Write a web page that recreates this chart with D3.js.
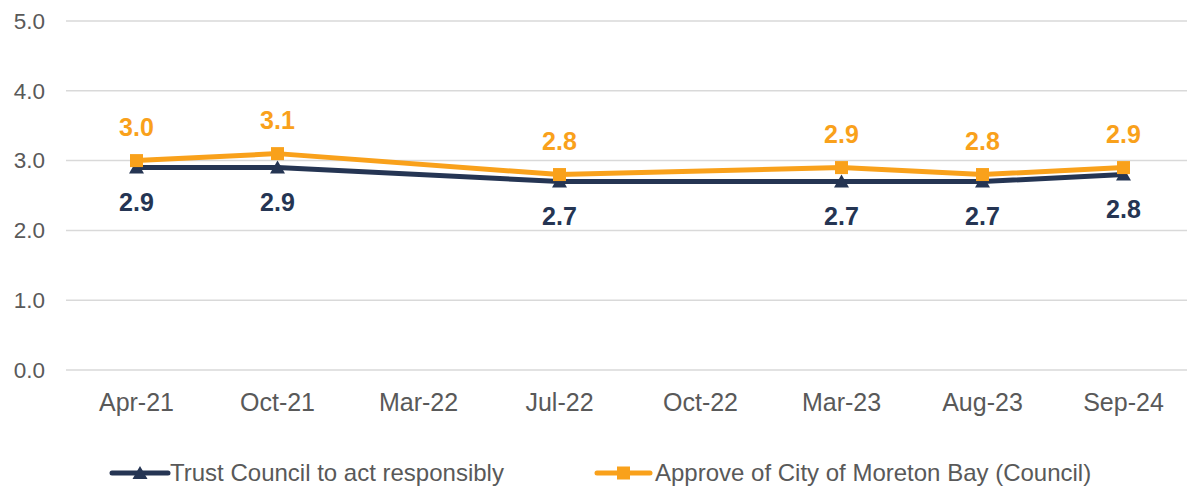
<!DOCTYPE html>
<html>
<head>
<meta charset="utf-8">
<script src="https://cdn.jsdelivr.net/npm/d3@7"></script>
<style>
  body { margin: 0; background: #fff; }
  text { font-family: "Liberation Sans", Arial, sans-serif; }
</style>
</head>
<body>
<svg id="chart" width="1187" height="489"></svg>
<script>
// categories and series
const periods = ['Apr-21', 'Oct-21', 'Mar-22', 'Jul-22', 'Oct-22', 'Mar-23', 'Aug-23', 'Sep-24'];
const trustValues = [2.9, 2.9, null, 2.7, null, 2.7, 2.7, 2.8];
const approveValues = [3.0, 3.1, null, 2.8, null, 2.9, 2.8, 2.9];
const yTicks = [0, 1, 2, 3, 4, 5];
const seriesNames = ['Trust Council to act responsibly', 'Approve of City of Moreton Bay (Council)'];

const navy = '#253553';
const orange = '#f9a11b';
const grey = '#595959';

var svg = d3.select('#chart');

let x = d3.scaleBand().domain(periods).range([66, 1194]);
let y = d3.scaleLinear().domain([0, 5]).range([370, 21]);

// gridlines
svg.append('g').selectAll('line').data(yTicks).enter().append('line')
    .attr('x1', 66).attr('x2', 1187)
    .attr('y1', d => y(d)).attr('y2', d => y(d))
    .attr('stroke', '#d9d9d9').attr('stroke-width', 1.5);

// y tick labels
svg.append('g').selectAll('text').data(yTicks).enter().append('text')
    .attr('x', 45).attr('y', d => y(d))
    .attr('text-anchor', 'end').attr('dy', '0.35em')
    .attr('font-size', 22.5).attr('fill', grey)
    .text(d => d3.format('.1f')(d));

// x tick labels
svg.append('g').selectAll('text').data(periods).enter().append('text')
    .attr('x', d => x(d) + x.bandwidth() / 2).attr('y', 402)
    .attr('text-anchor', 'middle').attr('dy', '0.35em')
    .attr('font-size', 25).attr('fill', grey)
    .text(d => d);

function pointsOf(values) {
    let pts = [];
    for (let i = 0; i < periods.length; i++) {
        if (values[i] != null) pts.push({ cat: periods[i], v: values[i] });
    }
    return pts;
}

let line = d3.line()
    .x(d => x(d.cat) + x.bandwidth() / 2)
    .y(d => y(d.v));

let trustPts = pointsOf(trustValues);
let approvePts = pointsOf(approveValues);

// navy series
svg.append('path').datum(trustPts)
    .attr('d', line).attr('fill', 'none')
    .attr('stroke', navy).attr('stroke-width', 5).attr('stroke-linejoin', 'round');
svg.append('g').selectAll('path').data(trustPts).enter().append('path')
    .attr('transform', d => 'translate(' + (x(d.cat) + x.bandwidth() / 2) + ',' + y(d.v) + ')')
    .attr('d', 'M0,-7L7.5,6L-7.5,6Z')
    .attr('fill', navy);

// orange series
svg.append('path').datum(approvePts)
    .attr('d', line).attr('fill', 'none')
    .attr('stroke', orange).attr('stroke-width', 5).attr('stroke-linejoin', 'round');
svg.append('g').selectAll('rect').data(approvePts).enter().append('rect')
    .attr('x', d => x(d.cat) + x.bandwidth() / 2 - 6.5)
    .attr('y', d => y(d.v) - 6.5)
    .attr('width', 13).attr('height', 13)
    .attr('fill', orange);

// data labels
svg.append('g').selectAll('text').data(trustPts).enter().append('text')
    .attr('x', d => x(d.cat) + x.bandwidth() / 2)
    .attr('y', d => y(d.v) + 35)
    .attr('text-anchor', 'middle').attr('dy', '0.35em')
    .attr('font-size', 25).attr('font-weight', 'bold').attr('fill', navy)
    .text(d => d3.format('.1f')(d.v));
svg.append('g').selectAll('text').data(approvePts).enter().append('text')
    .attr('x', d => x(d.cat) + x.bandwidth() / 2)
    .attr('y', d => y(d.v) - 33)
    .attr('text-anchor', 'middle').attr('dy', '0.35em')
    .attr('font-size', 25).attr('font-weight', 'bold').attr('fill', orange)
    .text(d => d3.format('.1f')(d.v));

// legend
let legendItems = [
    { name: seriesNames[0], color: navy, x: 112, marker: 'tri' },
    { name: seriesNames[1], color: orange, x: 597, marker: 'sq' }
];
let lg = svg.append('g').selectAll('g').data(legendItems).enter().append('g')
    .attr('transform', d => 'translate(' + d.x + ',473)');
lg.append('line')
    .attr('x1', 0).attr('x2', d => d.marker == 'tri' ? 56 : 53).attr('y1', 0).attr('y2', 0)
    .attr('stroke', d => d.color).attr('stroke-width', 5).attr('stroke-linecap', 'round');
lg.filter(d => d.marker == 'tri').append('path')
    .attr('d', 'M28,-7L35.5,6L20.5,6Z').attr('fill', navy);
lg.filter(d => d.marker == 'sq').append('rect')
    .attr('x', 20).attr('y', -6.5).attr('width', 13).attr('height', 13).attr('fill', orange);
lg.append('text')
    .attr('x', 58).attr('y', 0).attr('dy', '0.35em')
    .attr('font-size', 24).attr('fill', grey)
    .text(d => d.name);
</script>
</body>
</html>
